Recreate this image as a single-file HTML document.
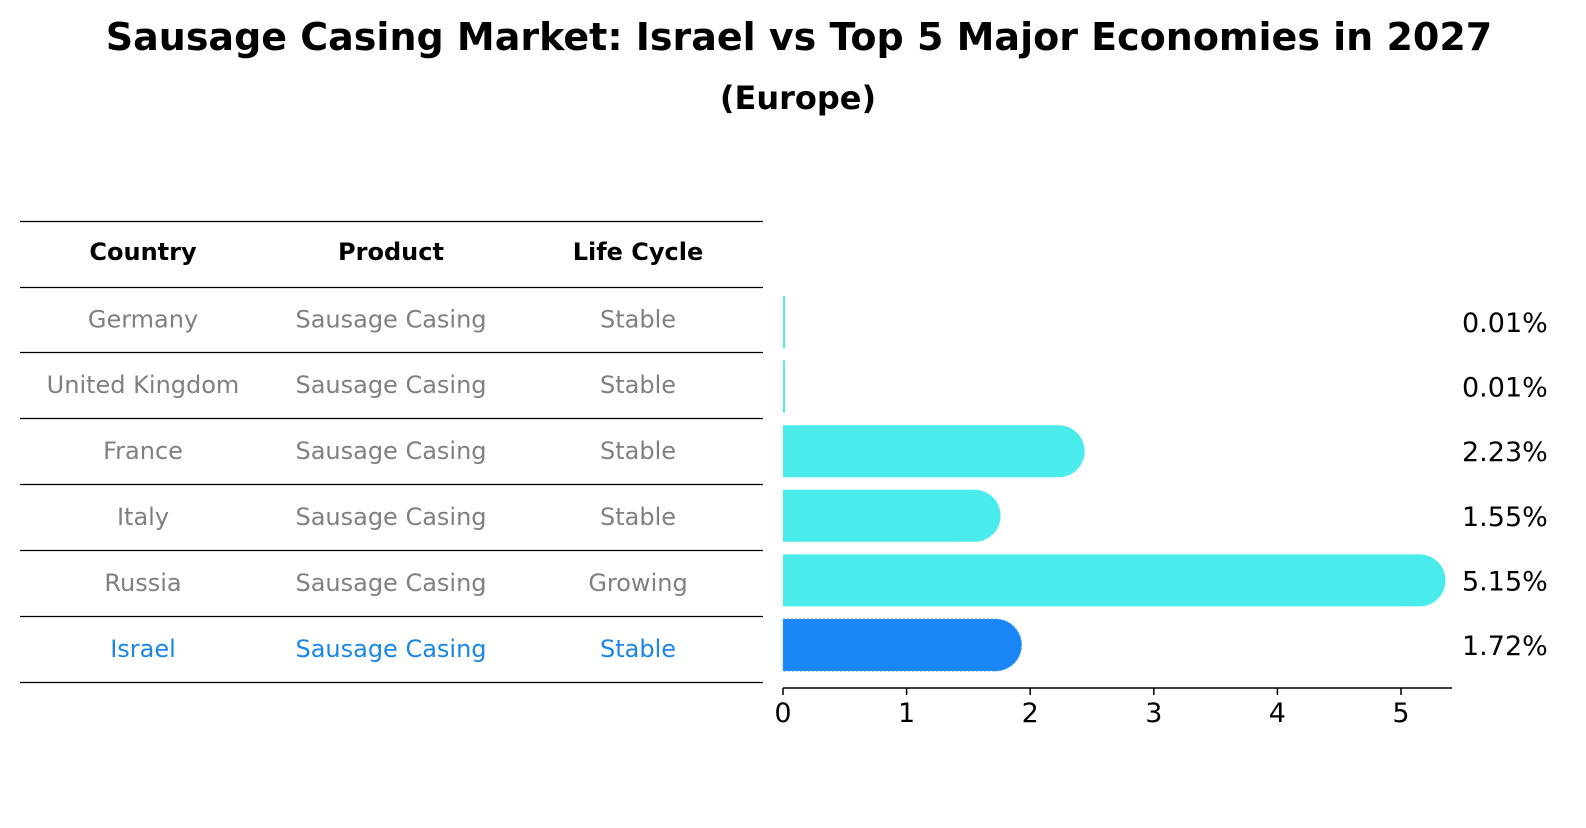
<!DOCTYPE html>
<html><head><meta charset="utf-8"><style>
body{margin:0;background:#fff;font-family:"Liberation Sans","DejaVu Sans",sans-serif;}
</style></head><body>
<svg width="1586" height="823" xmlns="http://www.w3.org/2000/svg" font-family="DejaVu Sans, Liberation Sans, sans-serif">
<text x="799" y="50" text-anchor="middle" font-size="38" font-weight="bold">Sausage Casing Market: Israel vs Top 5 Major Economies in 2027</text>
<text x="798" y="109" text-anchor="middle" font-size="32" font-weight="bold">(Europe)</text>
<g id="table"></g>
<g id="bars"></g>
</svg>
<script>
const countries=["Germany","United Kingdom","France","Italy","Russia","Israel"];
const products=["Sausage Casing","Sausage Casing","Sausage Casing","Sausage Casing","Sausage Casing","Sausage Casing"];
const lifecycles=["Stable","Stable","Stable","Stable","Growing","Stable"];
const values=[0.01,0.01,2.23,1.55,5.15,1.72];
const valueLabels=["0.01%","0.01%","2.23%","1.55%","5.15%","1.72%"];
const ticks=[0,1,2,3,4,5];
const NS="http://www.w3.org/2000/svg";
function mk(tag,attrs,parent){const e=document.createElementNS(NS,tag);for(const k in attrs)e.setAttribute(k,attrs[k]);parent.appendChild(e);return e;}
const tbl=document.getElementById('table'),bars=document.getElementById('bars');
const lineYs=[221,287,352,418,484,550,616,682];
const colX=[143,391,638];
lineYs.forEach((y,i)=>{const l=mk('line',{x1:20,x2:763,y1:y+0.5,y2:y+0.5,stroke:'#000','stroke-width':1.2},tbl);

});
["Country","Product","Life Cycle"].forEach((h,i)=>{const t=mk('text',{x:colX[i],y:260,'text-anchor':'middle','font-size':24,'font-weight':'bold'},tbl);t.textContent=h;

});
countries.forEach((c,r)=>{const y=(lineYs[r+1]+lineYs[r+2])/2+8;const col=r===5?'#1a86e8':'#808080';
[c,products[r],lifecycles[r]].forEach((v,i)=>{const t=mk('text',{x:colX[i],y:y,'text-anchor':'middle','font-size':24,fill:col},tbl);t.textContent=v;

});});
const x0=783,pxu=123.6,axisY=688;
const xs=v=>x0+v*pxu;
const rowY=i=>322+i*64.6;
values.forEach((v,i)=>{const cy=rowY(i),h=52,w=xs(v)-x0;
const col=i===5?'#1a86f5':'#4aeceb';
let d;
if(v<0.05){d=`M${x0},${cy-h/2}h2v${h}h-2z`;}
else{const r=h/2;d=`M${x0},${cy-r}h${w}a${r},${r} 0 0 1 0,${h}h${-w}z`;}
const attrs={d:d,fill:col};
if(i===5){attrs.stroke='#4aa8f0';attrs['stroke-width']=1;attrs['stroke-dasharray']='2,2';}
const p=mk('path',attrs,bars);


const t=mk('text',{x:1462,y:cy+10,'font-size':27},bars);t.textContent=valueLabels[i];

});
const ax=mk('line',{x1:x0,x2:1452,y1:axisY,y2:axisY,stroke:'#000','stroke-width':1.5},bars);


ticks.forEach(tk=>{const l=mk('line',{x1:xs(tk),x2:xs(tk),y1:axisY,y2:axisY+7,stroke:'#000','stroke-width':1.5},bars);


const t=mk('text',{x:xs(tk),y:axisY+34,'text-anchor':'middle','font-size':27},bars);t.textContent=tk;

});
</script>
</body></html>
